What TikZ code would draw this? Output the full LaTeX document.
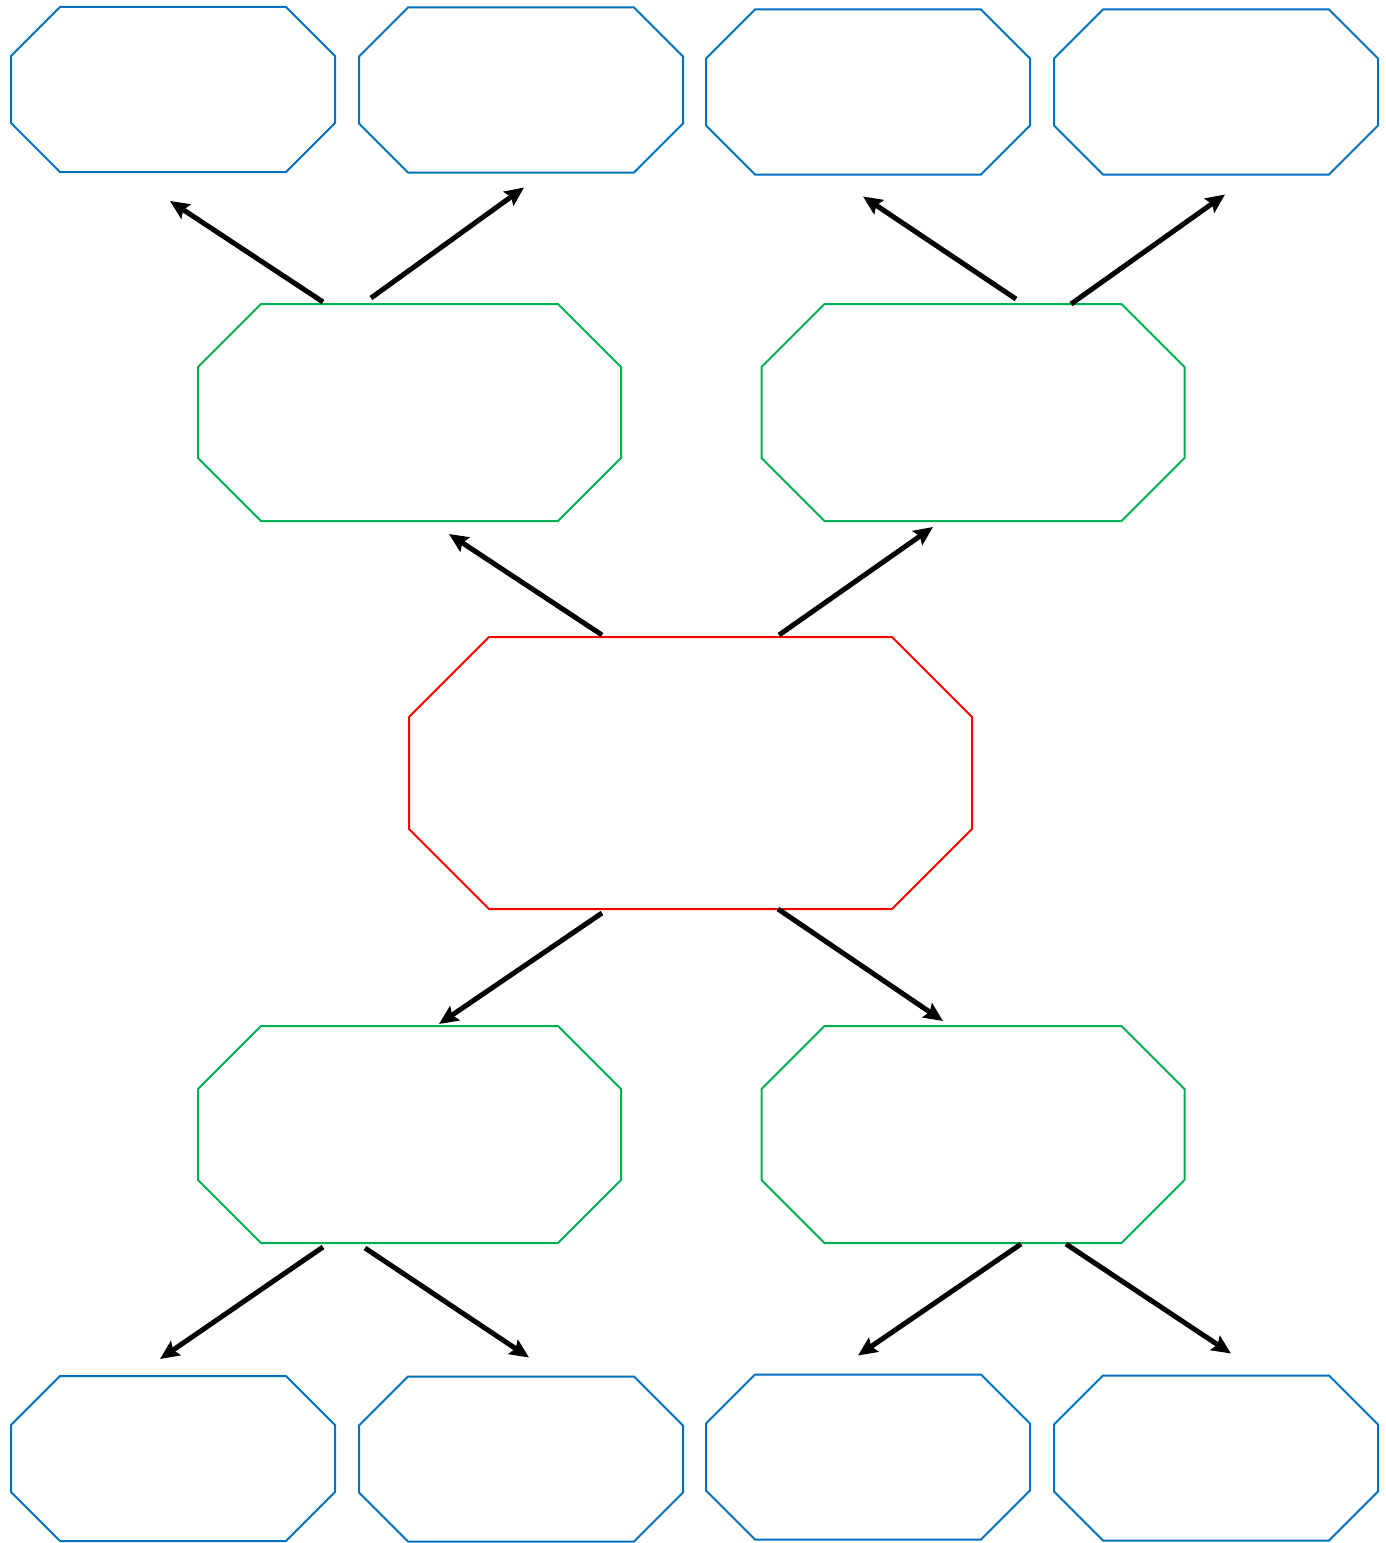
\documentclass[tikz,border=0pt]{standalone}
\usepackage{tikz}
\usetikzlibrary{arrows.meta, calc}

\definecolor{boxblue}{RGB}{0,112,192}
\definecolor{boxgreen}{RGB}{0,176,80}
\definecolor{boxred}{RGB}{255,0,0}

% octagon round a node: name, cut, colour
\newcommand{\cutbox}[3]{%
    \draw[#3, line width=0.04cm, line join=miter]
        ([xshift=#2]#1.north west) -- ([xshift=-#2]#1.north east) -- ([yshift=-#2]#1.north east)
        -- ([yshift=#2]#1.south east) -- ([xshift=-#2]#1.south east) -- ([xshift=#2]#1.south west)
        -- ([yshift=#2]#1.south west) -- ([yshift=-#2]#1.north west) -- cycle;}

\tikzset{
    leaf/.style={rectangle, inner sep=0, outer sep=0, minimum width=6.48cm, minimum height=3.3cm},
    branch/.style={rectangle, inner sep=0, outer sep=0, minimum width=8.46cm, minimum height=4.34cm},
    root/.style={rectangle, inner sep=0, outer sep=0, minimum width=11.26cm, minimum height=5.44cm},
    link/.style={line width=0.1cm, -{Stealth[length=0.38cm, width=0.34cm, inset=0.06cm]}}
}

\begin{document}
\begin{tikzpicture}
    \useasboundingbox (0,0) rectangle (27.7,-30.86);

    % centre
    \node[root] (r) at (13.81,-15.46) {};

    % second level
    \node[branch] (g1) at (8.19,-8.25) {};
    \node[branch] (g2) at (19.46,-8.25) {};
    \node[branch] (g3) at (8.19,-22.69) {};
    \node[branch] (g4) at (19.46,-22.69) {};

    % outer boxes
    \node[leaf] (b1) at (3.46,-1.79) {};
    \node[leaf] (b2) at (10.42,-1.80) {};
    \node[leaf] (b3) at (17.36,-1.84) {};
    \node[leaf] (b4) at (24.32,-1.84) {};
    \node[leaf] (b5) at (3.46,-29.17) {};
    \node[leaf] (b6) at (10.42,-29.18) {};
    \node[leaf] (b7) at (17.36,-29.14) {};
    \node[leaf] (b8) at (24.32,-29.16) {};

    \cutbox{r}{1.6cm}{boxred}
    \foreach \g in {g1,g2,g3,g4} {\cutbox{\g}{1.26cm}{boxgreen}}
    \foreach \b in {b1,b2,b3,b4,b5,b6,b7,b8} {\cutbox{\b}{0.98cm}{boxblue}}

    \draw[link] ($(r.north) + (-1.77,0.04)$) -- ($(g1.south) + (0.79,-0.26)$);
    \draw[link] ($(r.north) + (1.77,0.04)$) -- ($(g2.south) + (-0.80,-0.12)$);
    \draw[link] ($(r.south) + (-1.77,-0.08)$) -- ($(g3.north) + (0.59,0.04)$);
    \draw[link] ($(r.south) + (1.75,0)$) -- ($(g4.north) + (-0.60,0.10)$);

    \draw[link] ($(g1.north) + (-1.73,0.04)$) -- ($(b1.south) + (-0.06,-0.58)$);
    \draw[link] ($(g1.north) + (-0.77,0.12)$) -- ($(b2.south) + (0.06,-0.30)$);
    \draw[link] ($(g2.north) + (0.86,0.10)$) -- ($(b3.south) + (-0.10,-0.44)$);
    \draw[link] ($(g2.north) + (1.96,0)$) -- ($(b4.south) + (0.18,-0.40)$);

    \draw[link] ($(g3.south) + (-1.73,-0.08)$) -- ($(b5.north) + (-0.26,0.34)$);
    \draw[link] ($(g3.south) + (-0.89,-0.10)$) -- ($(b6.north) + (0.16,0.38)$);
    \draw[link] ($(g4.south) + (0.96,-0.02)$) -- ($(b7.north) + (-0.20,0.38)$);
    \draw[link] ($(g4.south) + (1.86,-0.02)$) -- ($(b8.north) + (0.30,0.44)$);
\end{tikzpicture}
\end{document}
